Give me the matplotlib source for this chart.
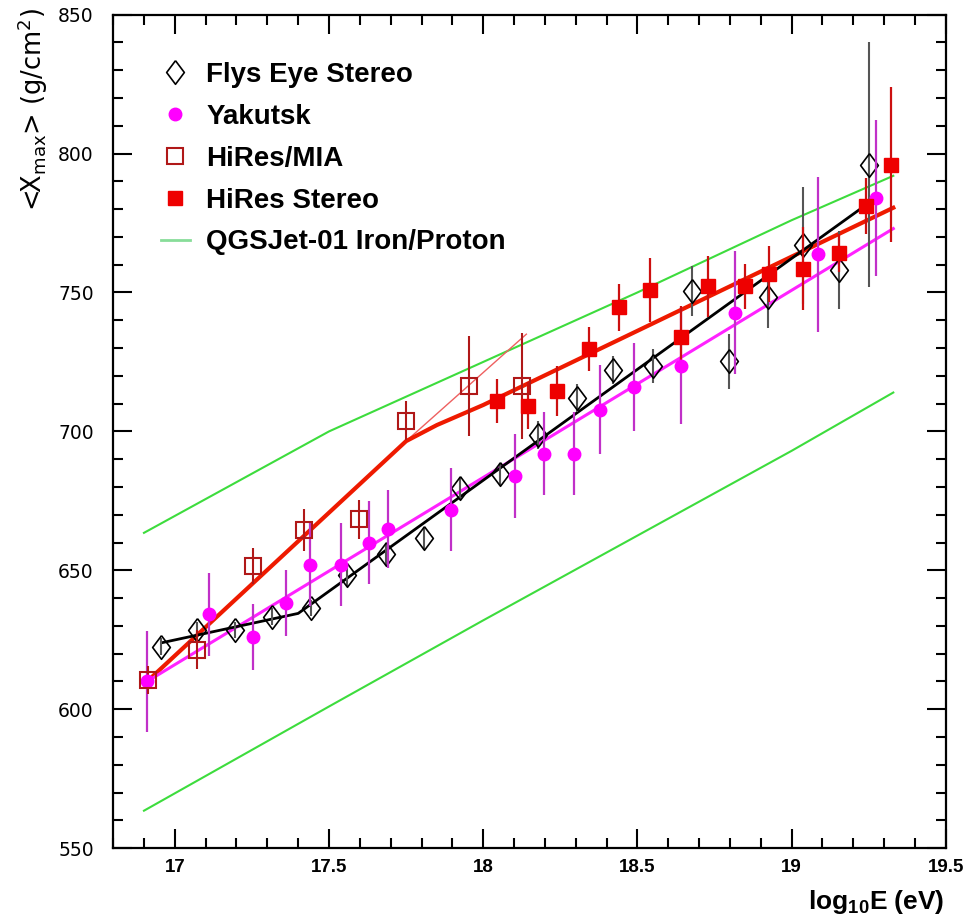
import numpy as np
import matplotlib
matplotlib.use("Agg")
import matplotlib.pyplot as plt
from matplotlib.lines import Line2D
from matplotlib.ticker import MultipleLocator

plt.rcParams['font.family'] = ['Liberation Sans', 'DejaVu Sans']
plt.rcParams['mathtext.default'] = 'regular'

# Fly's Eye stereo (open diamonds)
fe_x = [16.955, 17.073, 17.196, 17.314, 17.443, 17.56, 17.684, 17.807, 17.925, 18.053,
        18.179, 18.305, 18.421, 18.552, 18.678, 18.798, 18.924, 19.036, 19.155, 19.251]
fe_y = [622.5, 628.5, 628.5, 633.3, 636.4, 648.4, 656.0, 661.5, 679.5, 684.7,
        698.8, 712.0, 722.0, 723.6, 750.6, 725.2, 748.2, 767.0, 758.2, 796.0]
fe_err = [3, 3, 3, 3, 3, 4, 4, 4, 4, 4, 5, 5, 5, 6, 9, 10, 11, 21, 14, 44]

# Yakutsk (filled circles)
yk_x = [16.91, 17.11, 17.252, 17.36, 17.437, 17.539, 17.63, 17.692, 17.896, 18.104,
        18.196, 18.293, 18.38, 18.49, 18.64, 18.818, 19.085, 19.275]
yk_y = [610.0, 634.2, 626.0, 638.2, 652.0, 652.0, 660.0, 664.8, 671.8, 684.0,
        692.0, 692.0, 707.8, 716.0, 723.7, 742.8, 763.7, 784.0]
yk_err = [18, 15, 12, 12, 15, 15, 15, 14, 15, 15, 15, 15, 16, 16, 21, 22, 28, 28]

# HiRes/MIA (open squares)
mia_x = [16.912, 17.073, 17.252, 17.419, 17.598, 17.75, 17.954, 18.125]
mia_y = [610.5, 621.5, 651.6, 664.5, 668.4, 703.9, 716.4, 716.4]
mia_err = [5, 7, 6.5, 7.5, 7, 7, 18, 19]

# HiRes stereo (filled squares)
hs_x = [18.046, 18.145, 18.24, 18.343, 18.441, 18.541, 18.64, 18.729, 18.848, 18.927,
        19.036, 19.155, 19.243, 19.324]
hs_y = [711.0, 709.2, 714.6, 729.6, 744.7, 751.0, 734.0, 752.2, 752.2, 756.6,
        758.6, 764.2, 781.2, 796.0]
hs_err = [8, 8.5, 9, 8, 8.5, 11.5, 11, 11, 8, 10, 15, 7, 10, 28]

# fitted lines
fe_fit_x = [16.96, 17.40, 19.28]
fe_fit_y = [624.0, 634.5, 784.6]
yk_fit_x = [16.91, 19.33]
yk_fit_y = [610.0, 773.0]
hr_fit_x = [16.91, 17.75, 17.85, 18.0, 19.33]
hr_fit_y = [610.0, 696.5, 702.3, 709.5, 780.5]
mia_ext_x = [17.75, 18.14]
mia_ext_y = [696.5, 735.0]

# QGSJet-01 predictions
qgs_x = [16.9, 17.5, 18.0, 18.5, 19.0, 19.33]
qgs_p = [663.5, 700.0, 725.0, 750.0, 776.0, 792.0]
qgs_fe = [563.5, 601.0, 632.0, 662.5, 693.0, 714.0]

diamond = [(0, 1), (0.75, 0), (0, -1), (-0.75, 0), (0, 1)]

fig = plt.figure(figsize=(9.67, 9.15), dpi=100)
ax = fig.add_axes([0.117, 0.073, 0.861, 0.911])

green = '#3ddc3d'
ax.plot(qgs_x, qgs_p, color=green, lw=1.5)
ax.plot(qgs_x, qgs_fe, color=green, lw=1.5)

ax.plot(mia_ext_x, mia_ext_y, color='#ee6060', lw=1.0)
ax.plot(hr_fit_x, hr_fit_y, color='#ee1a00', lw=3)
ax.plot(yk_fit_x, yk_fit_y, color='#ff22ff', lw=2.2)
ax.plot(fe_fit_x, fe_fit_y, color='black', lw=2)

ax.errorbar(fe_x, fe_y, yerr=fe_err, fmt='none', ecolor='#555555', elinewidth=1.5, capsize=0)
ax.plot(fe_x, fe_y, ls='none', marker=diamond, ms=17, mfc='none', mec='black', mew=1.2)
ax.errorbar(yk_x, yk_y, yerr=yk_err, fmt='o', ms=9, mfc='#ff00ff', mec='#ff00ff',
            ecolor='#c030c8', elinewidth=1.6, capsize=0)
ax.errorbar(mia_x, mia_y, yerr=mia_err, fmt='s', ms=11, mfc='none', mec='#b01818', mew=1.5,
            ecolor='#b01818', elinewidth=1.5, capsize=0)
ax.errorbar(hs_x, hs_y, yerr=hs_err, fmt='s', ms=10, mfc='#ee0000', mec='#ee0000',
            ecolor='#cc1010', elinewidth=1.6, capsize=0)

ax.set_xlim(16.8, 19.5)
ax.set_ylim(550, 850)
ax.xaxis.set_major_locator(MultipleLocator(0.5))
ax.xaxis.set_minor_locator(MultipleLocator(0.1))
ax.yaxis.set_major_locator(MultipleLocator(50))
ax.yaxis.set_minor_locator(MultipleLocator(10))
ax.xaxis.set_major_formatter(plt.FuncFormatter(lambda v, p: ('%g' % v)))
ax.tick_params(which='both', direction='in', top=True, right=True, width=1.5)
ax.tick_params(which='major', length=14)
ax.tick_params(which='minor', length=7)
ax.tick_params(axis='x', which='major', pad=8)
ax.tick_params(axis='y', which='major', pad=14)
for t in ax.get_xticklabels():
    t.set_fontsize(13.5)
    t.set_fontweight('bold')
for t in ax.get_yticklabels():
    t.set_fontsize(13.5)
    t.set_family('DejaVu Sans')
for s in ax.spines.values():
    s.set_linewidth(1.6)

ax.set_ylabel('<X$_{max}$> (g/cm$^2$)', fontsize=18.5, family='DejaVu Sans', loc='top')
ax.yaxis.set_label_coords(-0.076, 1.008)
ax.set_xlabel('log$_{10}$E (eV)', fontsize=19, fontweight='bold', loc='right')
ax.xaxis.set_label_coords(0.998, -0.048)

handles = [
    Line2D([], [], ls='none', marker=diamond, ms=17, mfc='none', mec='black', mew=1.2),
    Line2D([], [], ls='none', marker='o', ms=9, mfc='#ff00ff', mec='#ff00ff'),
    Line2D([], [], ls='none', marker='s', ms=11, mfc='none', mec='#b01818', mew=1.5),
    Line2D([], [], ls='none', marker='s', ms=10, mfc='#ee0000', mec='#ee0000'),
    Line2D([], [], color='#88dd99', lw=2),
]
labels = ['Flys Eye Stereo', 'Yakutsk', 'HiRes/MIA', 'HiRes Stereo', 'QGSJet-01 Iron/Proton']
ax.legend(handles, labels, loc='upper left', bbox_to_anchor=(0.057, 0.943), frameon=False,
          borderpad=0, borderaxespad=0, handlelength=1.05, handletextpad=0.6,
          labelspacing=0.57, prop={'size': 20, 'weight': 'bold'})

fig.savefig('out.png', dpi=100)
